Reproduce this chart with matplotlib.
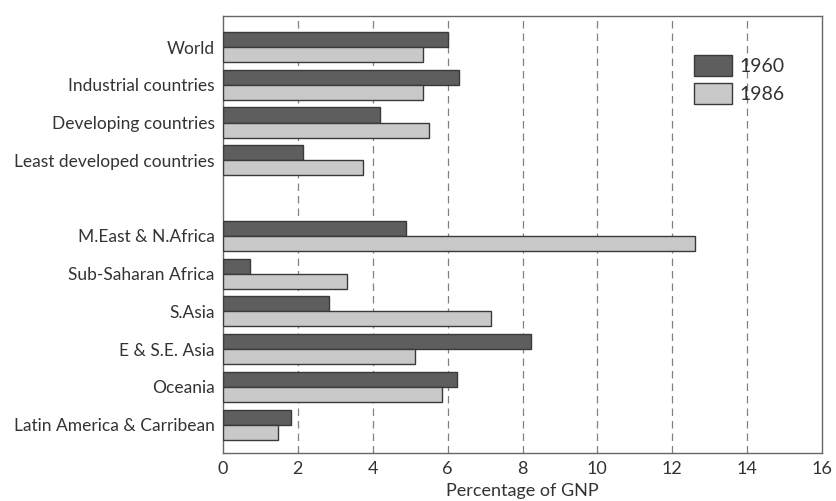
import matplotlib
matplotlib.use("Agg")
import matplotlib.pyplot as plt
import numpy as np

categories = [
    "World", "Industrial countries", "Developing countries",
    "Least developed countries",
    "M.East & N.Africa", "Sub-Saharan Africa", "S.Asia",
    "E & S.E. Asia", "Oceania", "Latin America & Carribean",
]
# row slots; slot 4 is left empty to separate the two groups
slots = [0, 1, 2, 3, 5, 6, 7, 8, 9, 10]
values_1960 = [6.02, 6.31, 4.19, 2.15, 4.89, 0.73, 2.82, 8.23, 6.26, 1.81]
values_1986 = [5.34, 5.34, 5.50, 3.75, 12.61, 3.30, 7.15, 5.13, 5.84, 1.48]
series_labels = ["1960", "1986"]
x_ticks = [0, 2, 4, 6, 8, 10, 12, 14, 16]

plt.rcParams["font.family"] = ["Lato", "DejaVu Sans"]

fig = plt.figure(figsize=(8.36, 5.01), dpi=100)
ax = fig.add_axes([0.2667, 0.0958, 0.7166, 0.8722])

y = np.array(slots, dtype=float)
h = 0.4
dark = "#5e5e5e"
light = "#c9c9c9"
edge = "#3a3a3a"

ax.barh(y - h / 2, values_1960, height=h, color=dark, edgecolor=edge,
        linewidth=1.0, label=series_labels[0], zorder=3)
ax.barh(y + h / 2, values_1986, height=h, color=light, edgecolor=edge,
        linewidth=1.0, label=series_labels[1], zorder=3)

ax.set_xlim(0, 16)
ax.set_ylim(10.75, -0.82)
ax.set_xticks(x_ticks)
ax.set_xticklabels([str(t) for t in x_ticks], fontsize=13, color="#333333")
ax.set_yticks(y)
ax.set_yticklabels(categories, fontsize=12.5, color="#333333")
ax.tick_params(axis="both", length=0, pad=6)

for t in x_ticks[1:-1]:
    ax.axvline(t, color="#808080", linestyle=(0, (6, 4)), linewidth=0.9, zorder=1)

for s in ax.spines.values():
    s.set_color("#666666")
    s.set_linewidth(1.0)

ax.set_xlabel("Percentage of GNP", fontsize=13, color="#333333", labelpad=4)

leg = ax.legend(loc="upper right", bbox_to_anchor=(0.967, 0.951), frameon=False,
                fontsize=14, handlelength=1.95, handleheight=1.25,
                handletextpad=0.4, labelspacing=0.4)
for txt in leg.get_texts():
    txt.set_color("#333333")

fig.savefig("out.png", dpi=100)
